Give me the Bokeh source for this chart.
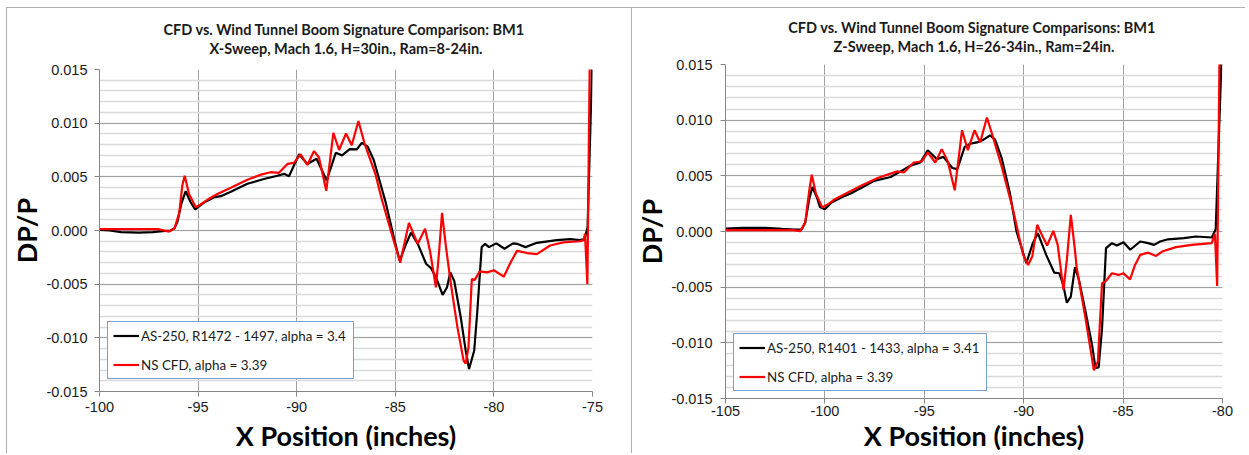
from bokeh.plotting import figure
from bokeh.models import (FixedTicker, NumeralTickFormatter, Legend, LegendItem,
                          Title, Range1d)
from bokeh.layouts import row
from bokeh.embed import file_html
from bokeh.resources import INLINE

# ---------------- data: left panel (X-Sweep) ----------------
left_title1 = "CFD vs. Wind Tunnel Boom Signature Comparison:  BM1"
left_title2 = "X-Sweep, Mach 1.6, H=30in., Ram=8-24in."
left_label_wt = "AS-250, R1472 - 1497, alpha = 3.4"
left_label_cfd = "NS CFD, alpha = 3.39"
left_x_ticks = [-100, -95, -90, -85, -80, -75]

left_wt_x = [-100, -99.5, -98.9, -98.0, -97.3, -96.8, -96.4, -96.2, -96.05, -95.85,
             -95.63, -95.4, -95.15, -94.7, -94.19, -93.85, -93.34, -92.5, -91.66, -90.98,
             -90.64, -90.39, -89.88, -89.46, -88.99, -88.48, -88.02, -87.7, -87.31, -86.95,
             -86.7, -86.4, -86.1, -85.5, -85.0, -84.78, -84.45, -84.2, -83.86, -83.44,
             -83.19, -82.94, -82.6, -82.38, -82.21, -82.01, -81.68, -81.43, -81.26, -81.0,
             -80.84, -80.62, -80.45, -80.25, -79.88, -79.46, -79.03, -78.83, -78.4, -77.82,
             -76.81, -76.14, -75.64, -75.4, -75.25, -75.01]
left_wt_y = [0.00006, 0.0, -0.00015, -0.0002, -0.00015, -0.00005, 0.0, 0.0002, 0.0008, 0.0025,
             0.00366, 0.0027, 0.00196, 0.0026, 0.0031, 0.0032, 0.0036, 0.00435, 0.0048, 0.0051,
             0.00528, 0.00506, 0.0071, 0.0062, 0.00668, 0.00466, 0.00724, 0.0070, 0.00758, 0.00755,
             0.00817, 0.0078, 0.0066, 0.0027, -0.0012, -0.0028, -0.00124, -0.0002, -0.00124, -0.0031,
             -0.0035, -0.00435, -0.006, -0.0053, -0.0039, -0.0047, -0.0081, -0.0112, -0.0129, -0.0112,
             -0.0075, -0.00155, -0.00124, -0.00155, -0.0012, -0.0017, -0.0012, -0.00124, -0.00155, -0.00115,
             -0.0009, -0.0008, -0.0009, -0.0008, 0.0003, 0.016]

left_cfd_x = [-100, -97.0, -96.47, -96.2, -95.96, -95.8, -95.68, -95.46, -95.12, -94.9,
              -94.53, -94.02, -93.34, -92.5, -91.82, -91.32, -90.9, -90.47, -90.14, -89.8,
              -89.46, -89.12, -88.87, -88.5, -88.14, -87.85, -87.5, -87.21, -86.87, -86.57,
              -86.0, -85.7, -85.2, -84.75, -84.31, -83.86, -83.49, -83.24, -82.94, -82.78,
              -82.63, -82.43, -82.18, -81.85, -81.54, -81.43, -81.29, -81.12, -80.97, -80.72,
              -80.34, -80.0, -79.5, -79.16, -78.83, -78.32, -77.82, -77.15, -76.48, -75.64,
              -75.45, -75.38, -75.26, -75.14]
left_cfd_y = [0.00012, 0.00012, -0.0001, 0.0002, 0.0016, 0.0042, 0.0051, 0.0034, 0.00217, 0.0024,
              0.00286, 0.0034, 0.00398, 0.00472, 0.0052, 0.00543, 0.00537, 0.0062, 0.0063, 0.0071,
              0.0061, 0.0074, 0.0068, 0.0037, 0.0091, 0.0075, 0.00904, 0.00795, 0.0102, 0.00817,
              0.0052, 0.0030, -0.0002, -0.003, 0.0007, -0.00124, 0.00016, -0.0019, -0.0053, -0.002,
              0.00165, -0.00155, -0.005, -0.009, -0.0121, -0.0124, -0.0109, -0.00453, -0.0046, -0.0038,
              -0.0039, -0.0037, -0.0043, -0.003, -0.0019, -0.0021, -0.0022, -0.0014, -0.0011, -0.001,
              -0.0009, -0.0003, -0.005, 0.016]

# ---------------- data: right panel (Z-Sweep) ----------------
right_title1 = "CFD vs. Wind Tunnel Boom Signature Comparisons:  BM1"
right_title2 = "Z-Sweep, Mach 1.6, H=26-34in., Ram=24in."
right_label_wt = "AS-250, R1401 - 1433, alpha = 3.41"
right_label_cfd = "NS CFD, alpha = 3.39"
right_x_ticks = [-105, -100, -95, -90, -85, -80]

right_wt_x = [-105, -104.14, -102.98, -102.15, -101.49, -101.16, -100.99, -100.8, -100.63, -100.41,
              -100.25, -100.0, -99.67, -99.0, -98.68, -98.18, -97.52, -96.69, -96.19, -95.7,
              -95.2, -94.83, -94.37, -94.04, -93.59, -93.34, -92.97, -92.68, -92.35, -92.02,
              -91.69, -91.44, -91.1, -90.7, -90.36, -89.87, -89.54, -89.29, -88.87, -88.46,
              -88.21, -88.01, -87.83, -87.63, -87.42, -87.22, -86.89, -86.56, -86.39, -86.23,
              -86.06, -85.86, -85.56, -85.31, -84.98, -84.64, -84.14, -83.74, -83.44, -83.14,
              -82.74, -81.94, -81.34, -80.54, -80.34, -80.04]
right_wt_y = [0.00027, 0.00033, 0.00033, 0.00024, 0.00018, 0.0002, 0.0008, 0.0028, 0.0040, 0.0031,
              0.0022, 0.0020, 0.0026, 0.0032, 0.00344, 0.0039, 0.00455, 0.0049, 0.0054, 0.0059,
              0.0062, 0.0073, 0.0065, 0.0067, 0.0057, 0.0056, 0.0076, 0.0079, 0.0080, 0.00825,
              0.00864, 0.00825, 0.00654, 0.0035, 0.0, -0.00285, -0.00105, -0.00015, -0.0021, -0.0037,
              -0.00375, -0.0048, -0.0064, -0.00585, -0.0032, -0.00435, -0.0072, -0.0102, -0.01225, -0.0122,
              -0.0087, -0.0015, -0.00105, -0.00126, -0.00096, -0.00164, -0.0009, -0.00104, -0.0012, -0.0009,
              -0.0007, -0.0006, -0.00045, -0.00054, 0.0002, 0.016]

right_cfd_x = [-105, -101.6, -101.24, -100.99, -100.8, -100.66, -100.45, -100.13, -99.8, -99.5,
               -98.84, -98.18, -97.35, -96.36, -96.03, -95.53, -95.12, -94.83, -94.45, -94.12,
               -93.82, -93.47, -93.1, -92.81, -92.47, -92.19, -91.85, -91.6, -91.1, -90.53,
               -90.03, -89.78, -89.57, -89.32, -89.09, -88.82, -88.51, -88.29, -88.0, -87.83,
               -87.63, -87.47, -87.33, -86.89, -86.47, -86.27, -86.06, -85.89, -85.56, -85.23,
               -84.98, -84.65, -84.4, -84.14, -83.74, -83.34, -83.04, -82.34, -81.54, -80.54,
               -80.38, -80.27, -80.15]
right_cfd_y = [0.00012, 0.00012, 0.00003, 0.0008, 0.0035, 0.0051, 0.0034, 0.00216, 0.0025, 0.0029,
               0.0035, 0.0041, 0.0048, 0.0054, 0.0053, 0.0062, 0.0063, 0.0071, 0.0062, 0.0074,
               0.0063, 0.0037, 0.0091, 0.0073, 0.0091, 0.008, 0.01024, 0.0088, 0.0058, 0.0019,
               -0.0021, -0.003, -0.00225, 0.0006, -0.0003, -0.00126, 0.00006, -0.0012, -0.00525, -0.00255,
               0.0015, -0.0009, -0.0033, -0.0078, -0.01246, -0.0117, -0.00465, -0.0045, -0.00375, -0.0039,
               -0.00375, -0.0043, -0.0030, -0.0021, -0.0019, -0.0022, -0.0018, -0.0014, -0.0012, -0.00104,
               -0.0002, -0.0049, 0.016]

# ---------------- shared axis data ----------------
y_range = (-0.015, 0.015)
y_ticks = [-0.015, -0.010, -0.005, 0.0, 0.005, 0.010, 0.015]
y_minor_ticks = [round(-0.015 + 0.001 * i, 3) for i in range(31)]
x_title = "X Position (inches)"
y_title = "DP/P"

FIG_H = 446


def make_panel(title1, title2, x_ticks, wt_x, wt_y, cfd_x, cfd_y, lab_wt, lab_cfd,
               width, mb_left, mb_right, mb_top, mb_bottom, legend_loc, label_w,
               spacer_size, spacer_standoff, x_lab_standoff, x_title_standoff, y_lab_standoff,
               margin):
    p = figure(width=width, height=FIG_H, output_backend="svg", toolbar_location=None,
               x_range=Range1d(x_ticks[0], x_ticks[-1]), y_range=Range1d(*y_range),
               min_border_left=mb_left, min_border_right=mb_right,
               min_border_top=mb_top, min_border_bottom=mb_bottom,
               styles={"border-top": "1px solid #b0b0b0", "border-left": "1px solid #b0b0b0"})
    # each panel keeps its own frame position (no cross-plot frame alignment)
    try:
        p.frame_align = False
    except Exception:
        pass
    p.margin = margin
    p.outline_line_color = None
    p.background_fill_color = "white"
    p.border_fill_color = "white"

    # titles: an invisible spacer nearest the frame, then line 2, then line 1
    p.add_layout(Title(text=" ", text_font="Lato", text_font_size=spacer_size,
                       standoff=spacer_standoff), "above")
    tkw = dict(align="center", text_font="Lato", text_font_style="bold",
               text_font_size="14.5px", text_color="#1a1a1a", standoff=0)
    p.add_layout(Title(text=title2, **tkw), "above")
    p.add_layout(Title(text=title1, **tkw), "above")

    xt = FixedTicker(ticks=x_ticks)
    yt = FixedTicker(ticks=y_ticks, minor_ticks=y_minor_ticks)
    p.xaxis.ticker = xt
    p.yaxis.ticker = yt
    p.xgrid.ticker = xt
    p.ygrid.ticker = yt
    p.xaxis.formatter = NumeralTickFormatter(format="0")
    p.yaxis.formatter = NumeralTickFormatter(format="0.000")

    for ax in (p.xaxis, p.yaxis):
        ax.axis_line_color = "#868686"
        ax.major_tick_line_color = "#868686"
        ax.major_tick_out = 5
        ax.major_tick_in = 0
        ax.minor_tick_line_color = None
        ax.major_label_text_font = "Liberation Sans"
        ax.major_label_text_font_size = "14.5px"
        ax.major_label_text_color = "#1a1a1a"
        ax.axis_label_text_font = "Lato"
        ax.axis_label_text_font_style = "bold"
        ax.axis_label_text_font_size = "27px"
        ax.axis_label_text_color = "#000000"
    p.yaxis.major_label_standoff = y_lab_standoff
    p.yaxis.axis_label = y_title
    p.yaxis.axis_label_standoff = 0
    p.xaxis.major_label_standoff = x_lab_standoff
    p.xaxis.axis_label = x_title
    p.xaxis.axis_label_standoff = x_title_standoff

    p.xgrid.grid_line_color = "#a0a0a0"
    p.xgrid.grid_line_width = 1
    p.ygrid.grid_line_color = "#a0a0a0"
    p.ygrid.grid_line_width = 1
    p.ygrid.minor_grid_line_color = "#d9d9d9"
    p.ygrid.minor_grid_line_width = 1.5

    r_wt = p.line(wt_x, wt_y, line_color="#000000", line_width=2.2)
    r_cfd = p.line(cfd_x, cfd_y, line_color="#ff0000", line_width=2.2)

    leg = Legend(items=[LegendItem(label=lab_wt, renderers=[r_wt]),
                        LegendItem(label=lab_cfd, renderers=[r_cfd])],
                 location=legend_loc, orientation="vertical",
                 border_line_color="#7a9ccf", border_line_width=1, border_line_alpha=1,
                 background_fill_color="white", background_fill_alpha=1,
                 padding=5, spacing=12, margin=0,
                 glyph_width=26, glyph_height=17, label_height=17, label_standoff=2,
                 label_width=label_w,
                 label_text_font="Lato", label_text_font_size="13.4px",
                 label_text_color="#1a1a1a")
    p.add_layout(leg)
    return p


# left canvas starts at page (7, 8)
p1 = make_panel(left_title1, left_title2, left_x_ticks, left_wt_x, left_wt_y,
                left_cfd_x, left_cfd_y, left_label_wt, left_label_cfd,
                width=625, mb_left=91, mb_right=40, mb_top=61, mb_bottom=63,
                legend_loc=(8, 12), label_w=207,
                spacer_size="9px", spacer_standoff=0,
                x_lab_standoff=5, x_title_standoff=4, y_lab_standoff=7,
                margin=(7, 0, 0, 6))
# right canvas starts at page (633, 8)
p2 = make_panel(right_title1, right_title2, right_x_ticks, right_wt_x, right_wt_y,
                right_cfd_x, right_cfd_y, right_label_wt, right_label_cfd,
                width=614, mb_left=87, mb_right=24, mb_top=56, mb_bottom=56,
                legend_loc=(8, 7), label_w=214,
                spacer_size="6px", spacer_standoff=1.1,
                x_lab_standoff=2, x_title_standoff=0, y_lab_standoff=8,
                margin=(7, 0, 0, 0))

layout = row(p1, p2, spacing=0)
open("out.html", "w").write(file_html(layout, INLINE))
